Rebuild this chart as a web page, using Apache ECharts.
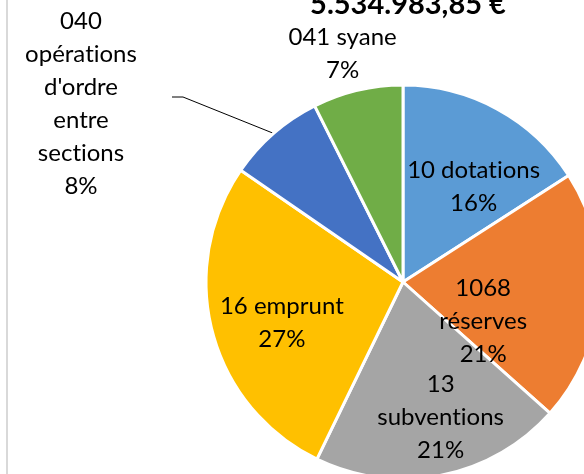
<!DOCTYPE html>
<html>
<head>
<meta charset="utf-8">
<script src="https://cdn.jsdelivr.net/npm/echarts@6/dist/echarts.min.js"></script>
<style>
  html, body { margin: 0; padding: 0; background: #fff; }
  #chart { width: 584px; height: 474px; }
</style>
</head>
<body>
<div id="chart"></div>
<script>
// data (euros, total 5.534.983,85)
const categories = ['10 dotations', '1068\nréserves', '13\nsubventions', '16 emprunt', '040\nopérations\nd\'ordre\nentre\nsections', '041 syane'];
const amounts = [880000, 1146000, 1140000, 1516600, 442800, 409584];
const sliceColors = ['#5B9BD5', '#ED7D31', '#A5A5A5', '#FFC000', '#4472C4', '#70AD47'];
const totalLabel = '5.534.983,85 €';

// label nudges from the default inside spot
const labelOffsets = [[22, -6], [-21, 31], [18, 36], [-23, 15], [0, 0], [-37, -129]];

const chart = echarts.init(document.getElementById('chart'));

const pieData = categories.map((name, i) => {
  const item = {
    name: name,
    value: amounts[i],
    itemStyle: { color: sliceColors[i] },
    label: { position: 'inside', offset: labelOffsets[i] }
  };
  if (i === 4) {
    item.label = { position: 'outside' };
    item.labelLine = { show: true, length: 20, length2: 10, lineStyle: { color: '#000', width: 1 } };
  }
  return item;
});

chart.setOption({
  animation: false,
  title: {
    text: totalLabel,
    left: 403,
    top: -15,
    textAlign: 'center',
    textStyle: { fontFamily: 'Lato', fontWeight: 'bold', fontSize: 29, color: '#000' }
  },
  graphic: [{
    type: 'line',
    shape: { x1: 7, y1: 0, x2: 7, y2: 474 },
    style: { stroke: '#d9d9d9', lineWidth: 2 }
  }],
  series: [{
    type: 'pie',
    center: [403, 282],
    radius: 197,
    startAngle: 90,
    clockwise: true,
    percentPrecision: 0,
    avoidLabelOverlap: false,
    itemStyle: { borderColor: '#fff', borderWidth: 3 },
    label: {
      show: true,
      // zero-width non-joiner keeps Lato from drawing the "ti" ligature
      formatter: p => p.name.replace(/ti/g, 't\u200Ci') + '\n' + p.percent + '%',
      fontFamily: 'Lato',
      fontSize: 24,
      lineHeight: 33,
      color: '#000',
      align: 'center'
    },
    labelLine: { show: false },
    labelLayout: function (p) {
      if (p.dataIndex !== 4 || !p.labelLinePoints) return {};
      const edge = p.labelLinePoints[0];
      return {
        x: 81,
        y: 104,
        align: 'center',
        verticalAlign: 'middle',
        labelLinePoints: [edge, [183, 97], [172, 97]]
      };
    },
    emphasis: { disabled: true },
    data: pieData
  }]
});
</script>
</body>
</html>
